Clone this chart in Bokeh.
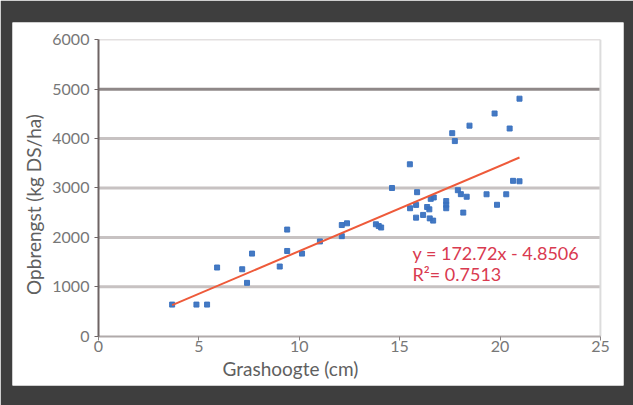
import math
from bokeh.plotting import figure
from bokeh.models import Label, FixedTicker, BoxAnnotation, LinearAxis
from bokeh.embed import file_html
from bokeh.resources import INLINE

# ---- data ----
grass_height = [3.67, 4.88, 5.41, 5.91, 7.16, 7.40, 7.65, 9.03, 9.40, 9.40,
                10.14, 11.03, 12.12, 12.12, 12.38, 13.82, 13.96, 14.08, 14.62, 15.51,
                15.52, 15.82, 15.87, 15.82, 16.17, 16.37, 16.48, 16.55, 16.50, 16.67,
                16.70, 17.32, 17.32, 17.32, 17.62, 17.75, 17.90, 18.05, 18.17, 18.34,
                18.48, 19.33, 19.73, 19.85, 20.31, 20.48, 20.65, 20.97, 20.97]
yield_kg = [640, 640, 640, 1390, 1355, 1080, 1672, 1410, 2158, 1725,
            1672, 1918, 2025, 2250, 2285, 2265, 2230, 2200, 3000, 3480,
            2590, 2658, 2915, 2400, 2455, 2615, 2568, 2780, 2385, 2340,
            2808, 2735, 2660, 2590, 4110, 3950, 2955, 2875, 2502, 2823,
            4262, 2873, 4508, 2660, 2873, 4204, 3145, 4808, 3136]
slope = 172.72
intercept = -4.8506
r_squared = 0.7513
x_ticks = [0, 5, 10, 15, 20, 25]
y_ticks = [0, 1000, 2000, 3000, 4000, 5000, 6000]
x_title = "Grashoogte (cm)"
y_title = "Opbrengst (kg DS/ha)"

FONT = "Lato"
TICK_COLOR = "#777777"
TITLE_COLOR = "#606060"
W, H = 633, 405

p = figure(width=W, height=H, output_backend="svg", toolbar_location=None,
           x_range=(-4.28, 26.15), y_range=(-998, 6350),
           x_axis_location=None, y_axis_location=None,
           min_border_left=12, min_border_right=10, min_border_top=22, min_border_bottom=20,
           border_fill_color="#3e3e3e", background_fill_color="white",
           outline_line_color=None)
p.xgrid.visible = False
p.ygrid.visible = False

xax = LinearAxis(fixed_location=0, bounds=(x_ticks[0], x_ticks[-1]),
                 ticker=FixedTicker(ticks=x_ticks))
yax = LinearAxis(fixed_location=0, bounds=(y_ticks[0], y_ticks[-1]),
                 ticker=FixedTicker(ticks=y_ticks))
for ax in (xax, yax):
    ax.minor_tick_line_color = None
    ax.major_tick_in = 0
    ax.major_tick_out = 4
    ax.major_label_text_font = FONT
    ax.major_label_text_font_size = "16px"
    ax.major_label_text_color = TICK_COLOR
xax.axis_line_color = "#b0aaaa"
xax.axis_line_width = 2
xax.major_tick_line_color = "#8a8484"
xax.major_label_standoff = 1
yax.axis_line_color = "#6e6464"
yax.axis_line_width = 2
yax.major_tick_line_color = "#6e6464"
yax.major_label_standoff = 5
p.add_layout(xax, "below")
p.add_layout(yax, "left")

# horizontal grid lines spanning the axis range
grid_y = y_ticks[1:]
grid_colors = ["#e3e0e0" if v == y_ticks[-1] else ("#8f8888" if v == 5000 else "#c7c2c2") for v in grid_y]
grid_widths = [1.5 if v == y_ticks[-1] else 3 for v in grid_y]
p.segment(x0=[x_ticks[0]] * len(grid_y), x1=[x_ticks[-1]] * len(grid_y),
          y0=grid_y, y1=grid_y, line_color=grid_colors, line_width=grid_widths)
# right edge line
p.segment(x0=[x_ticks[-1]], x1=[x_ticks[-1]], y0=[y_ticks[0]], y1=[y_ticks[-1]],
          line_color="#dcdcdc", line_width=2)

# points
p.scatter(grass_height, yield_kg, marker="square", size=5,
          fill_color="#3a72c0", line_color="#3a72c0", alpha=0.95)

# trendline
xs = [min(grass_height), max(grass_height)]
ys = [slope * x + intercept for x in xs]
p.line(xs, ys, line_color="#ee5a3a", line_width=2)

# equation
eq_color = "#d93a50"
p.add_layout(Label(x=15.64, y=1692, text=f"y = {slope}x - {abs(intercept)}",
                   text_font=FONT, text_font_size="18px", text_color=eq_color,
                   text_baseline="alphabetic"))
p.add_layout(Label(x=15.64, y=1267, text=f"R\u00b2= {r_squared}",
                   text_font=FONT, text_font_size="18px", text_color=eq_color,
                   text_baseline="alphabetic"))

# axis titles
p.add_layout(Label(x=9.56, y=-648, text=x_title, text_font=FONT, text_font_size="19px",
                   text_color=TITLE_COLOR, text_align="center", text_baseline="alphabetic"))
p.add_layout(Label(x=-3.24, y=2666, text=y_title, text_font=FONT, text_font_size="19px",
                   text_color=TITLE_COLOR, text_align="center", text_baseline="middle",
                   angle=math.pi / 2))

# white page strips outside the dark frame (top and left)
p.add_layout(BoxAnnotation(top=0, bottom=13, left=0, right=W,
                           top_units="canvas", bottom_units="canvas",
                           left_units="canvas", right_units="canvas",
                           fill_color="white", fill_alpha=1, line_alpha=0, level="overlay"))
p.add_layout(BoxAnnotation(top=0, bottom=H, left=0, right=4,
                           top_units="canvas", bottom_units="canvas",
                           left_units="canvas", right_units="canvas",
                           fill_color="white", fill_alpha=1, line_alpha=0, level="overlay"))

open("out.html", "w").write(file_html(p, INLINE))
